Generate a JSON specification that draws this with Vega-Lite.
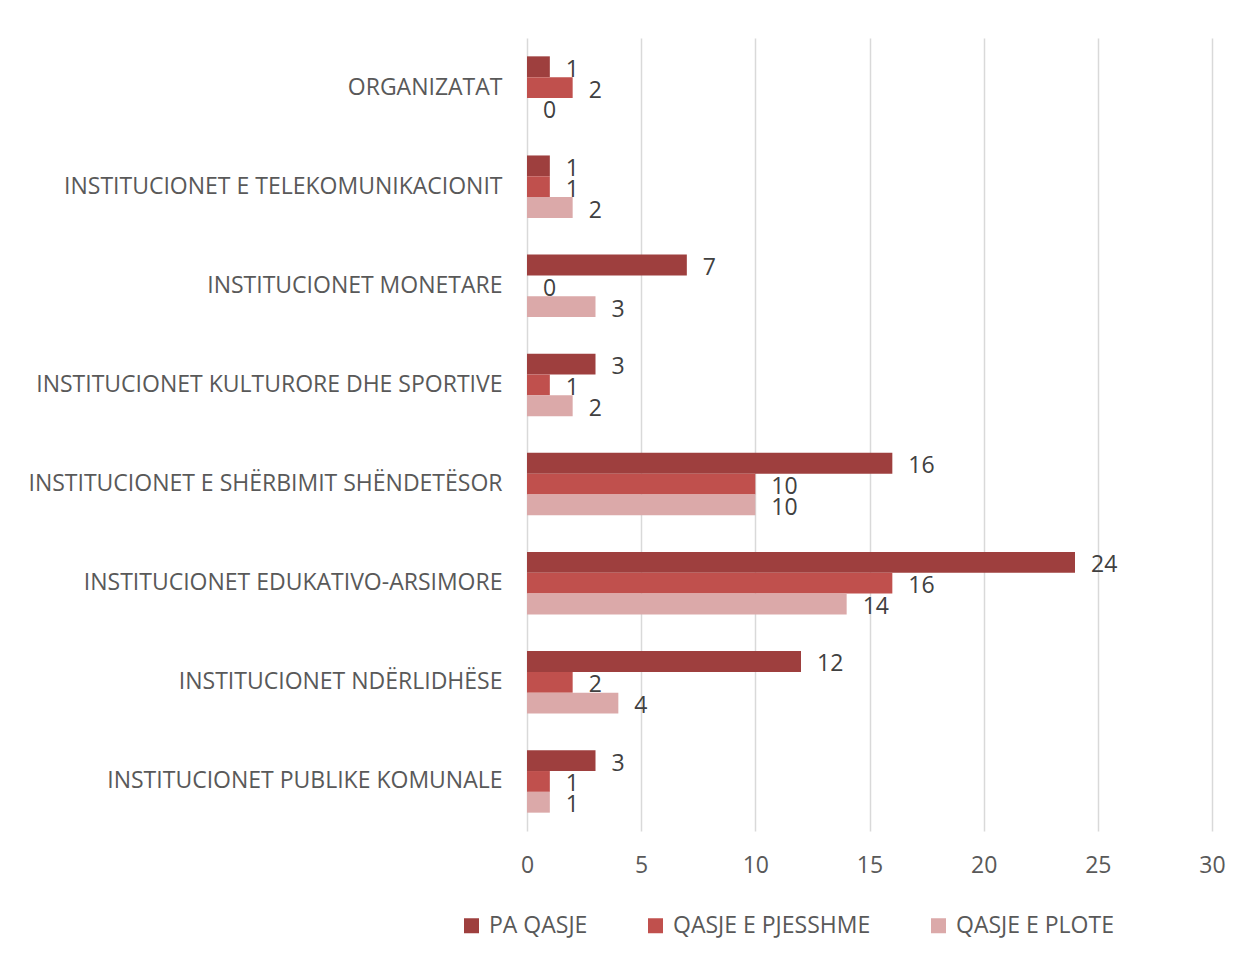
{
  "$schema": "https://vega.github.io/schema/vega-lite/v6.json",
  "autosize": {"type": "none"},
  "width": 685,
  "height": 793,
  "padding": {"left": 527, "top": 38, "right": 32, "bottom": 124},
  "background": "white",
  "config": {
    "view": {"stroke": null},
    "font": "Open Sans",
    "axis": {"labelFont": "Open Sans", "labelColor": "#595959", "labelFontSize": 23},
    "legend": {"labelFont": "Open Sans", "labelColor": "#595959", "labelFontSize": 23}
  },
  "data": {
    "values": [
      {"kategoria": "ORGANIZATAT", "seria": "PA QASJE", "vlera": 1},
      {"kategoria": "ORGANIZATAT", "seria": "QASJE E PJESSHME", "vlera": 2},
      {"kategoria": "ORGANIZATAT", "seria": "QASJE E PLOTE", "vlera": 0},
      {"kategoria": "INSTITUCIONET E TELEKOMUNIKACIONIT", "seria": "PA QASJE", "vlera": 1},
      {"kategoria": "INSTITUCIONET E TELEKOMUNIKACIONIT", "seria": "QASJE E PJESSHME", "vlera": 1},
      {"kategoria": "INSTITUCIONET E TELEKOMUNIKACIONIT", "seria": "QASJE E PLOTE", "vlera": 2},
      {"kategoria": "INSTITUCIONET MONETARE", "seria": "PA QASJE", "vlera": 7},
      {"kategoria": "INSTITUCIONET MONETARE", "seria": "QASJE E PJESSHME", "vlera": 0},
      {"kategoria": "INSTITUCIONET MONETARE", "seria": "QASJE E PLOTE", "vlera": 3},
      {"kategoria": "INSTITUCIONET KULTURORE DHE SPORTIVE", "seria": "PA QASJE", "vlera": 3},
      {"kategoria": "INSTITUCIONET KULTURORE DHE SPORTIVE", "seria": "QASJE E PJESSHME", "vlera": 1},
      {"kategoria": "INSTITUCIONET KULTURORE DHE SPORTIVE", "seria": "QASJE E PLOTE", "vlera": 2},
      {"kategoria": "INSTITUCIONET E SHËRBIMIT SHËNDETËSOR", "seria": "PA QASJE", "vlera": 16},
      {"kategoria": "INSTITUCIONET E SHËRBIMIT SHËNDETËSOR", "seria": "QASJE E PJESSHME", "vlera": 10},
      {"kategoria": "INSTITUCIONET E SHËRBIMIT SHËNDETËSOR", "seria": "QASJE E PLOTE", "vlera": 10},
      {"kategoria": "INSTITUCIONET EDUKATIVO-ARSIMORE", "seria": "PA QASJE", "vlera": 24},
      {"kategoria": "INSTITUCIONET EDUKATIVO-ARSIMORE", "seria": "QASJE E PJESSHME", "vlera": 16},
      {"kategoria": "INSTITUCIONET EDUKATIVO-ARSIMORE", "seria": "QASJE E PLOTE", "vlera": 14},
      {"kategoria": "INSTITUCIONET NDËRLIDHËSE", "seria": "PA QASJE", "vlera": 12},
      {"kategoria": "INSTITUCIONET NDËRLIDHËSE", "seria": "QASJE E PJESSHME", "vlera": 2},
      {"kategoria": "INSTITUCIONET NDËRLIDHËSE", "seria": "QASJE E PLOTE", "vlera": 4},
      {"kategoria": "INSTITUCIONET PUBLIKE KOMUNALE", "seria": "PA QASJE", "vlera": 3},
      {"kategoria": "INSTITUCIONET PUBLIKE KOMUNALE", "seria": "QASJE E PJESSHME", "vlera": 1},
      {"kategoria": "INSTITUCIONET PUBLIKE KOMUNALE", "seria": "QASJE E PLOTE", "vlera": 1}
    ]
  },
  "encoding": {
    "y": {
      "field": "kategoria",
      "type": "nominal",
      "sort": null,
      "title": null,
      "scale": {"paddingInner": 0.37, "paddingOuter": 0.185},
      "axis": {"ticks": false, "domain": false, "labelPadding": 25, "labelLimit": 600}
    },
    "yOffset": {
      "field": "seria",
      "type": "nominal",
      "sort": ["PA QASJE", "QASJE E PJESSHME", "QASJE E PLOTE"],
      "scale": {"paddingInner": 0, "paddingOuter": 0}
    },
    "x": {
      "field": "vlera",
      "type": "quantitative",
      "title": null,
      "scale": {"domain": [0, 30], "nice": false},
      "axis": {"values": [0, 5, 10, 15, 20, 25, 30], "ticks": false, "domain": false, "labelFlush": false, "labelPadding": 23, "gridColor": "#D9D9D9", "gridWidth": 1.5}
    }
  },
  "layer": [
    {
      "mark": {"type": "bar"},
      "encoding": {
        "color": {
          "field": "seria",
          "type": "nominal",
          "sort": ["PA QASJE", "QASJE E PJESSHME", "QASJE E PLOTE"],
          "scale": {"domain": ["PA QASJE", "QASJE E PJESSHME", "QASJE E PLOTE"], "range": ["#9E3F3E", "#C0504D", "#DBA9A9"]},
          "legend": {
            "title": null,
            "orient": "none",
            "direction": "horizontal",
            "legendX": -67,
            "legendY": 876,
            "symbolType": "square",
            "symbolSize": 225,
            "columnPadding": 56,
            "labelOffset": 6,
            "labelLimit": 400
          }
        }
      }
    },
    {
      "mark": {"type": "text", "align": "left", "dx": 16, "dy": 3, "fontSize": 23, "color": "#404040", "font": "Open Sans"},
      "encoding": {"text": {"field": "vlera", "type": "quantitative"}}
    }
  ]
}
